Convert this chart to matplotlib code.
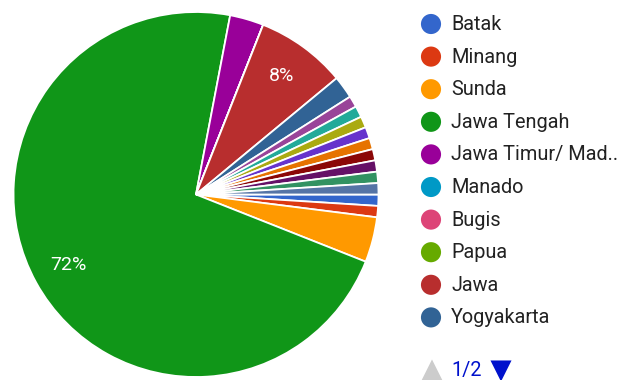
import matplotlib
matplotlib.use("Agg")
import matplotlib.pyplot as plt

# ---- data (counts, ~100 responses) ----
categories = ["Batak", "Minang", "Sunda", "Jawa Tengah", "Jawa Timur/ Mad..",
              "Manado", "Bugis", "Papua", "Jawa", "Yogyakarta",
              "Kategori 11", "Kategori 12", "Kategori 13", "Kategori 14", "Kategori 15",
              "Kategori 16", "Kategori 17", "Kategori 18", "Kategori 19"]
values = [1, 1, 4, 72, 3, 0, 0, 0, 8, 2, 1, 1, 1, 1, 1, 1, 1, 1, 1]
colors = ["#3366cc", "#dc3912", "#ff9900", "#109618", "#990099",
          "#0099c6", "#dd4477", "#66aa00", "#b82e2e", "#316395",
          "#994499", "#22aa99", "#aaaa11", "#6633cc", "#e67300",
          "#8b0707", "#651067", "#329262", "#5574a6"]
legend_page = 10
page_text = "1/2"

W, H = 622, 380
fig = plt.figure(figsize=(W / 100, H / 100), dpi=100)
fig.patch.set_facecolor("white")

cx, cy, R = 196, 194.5, 182.5
ax = fig.add_axes([(cx - R) / W, (H - cy - R) / H, 2 * R / W, 2 * R / H])


def pct(p):
    return f"{p:.0f}%" if p >= 5 else ""


wedges, texts, autotexts = ax.pie(
    values, colors=colors, startangle=0, counterclock=False,
    wedgeprops=dict(edgecolor="white", linewidth=1.3),
    autopct=pct, pctdistance=0.8,
    textprops=dict(color="white", fontsize=14, family="Roboto"))
ax.set_xlim(-1, 1)
ax.set_ylim(-1, 1)
ax.set_aspect("equal")
ax.axis("off")

# ---- legend (pixel overlay) ----
lx = fig.add_axes([0, 0, 1, 1])
lx.set_xlim(0, W)
lx.set_ylim(H, 0)
lx.axis("off")
y0, dy = 24, 32.6
for i in range(legend_page):
    y = y0 + i * dy
    lx.scatter([431], [y], s=210, color=colors[i], edgecolors="none")
    lx.text(451, y + 0.5, categories[i], fontsize=14.3, family="Roboto",
            color="#222222", va="center", ha="left")

ypg = 370
lx.scatter([432], [ypg], marker="^", s=230, color="#cccccc", edgecolors="none")
lx.text(451, ypg + 0.5, page_text, fontsize=14.3, family="Roboto", color="#0011cc",
        va="center", ha="left")
lx.scatter([501], [ypg + 1], marker="v", s=230, color="#0011cc", edgecolors="none")

fig.savefig("out.png", dpi=100, facecolor="white")
